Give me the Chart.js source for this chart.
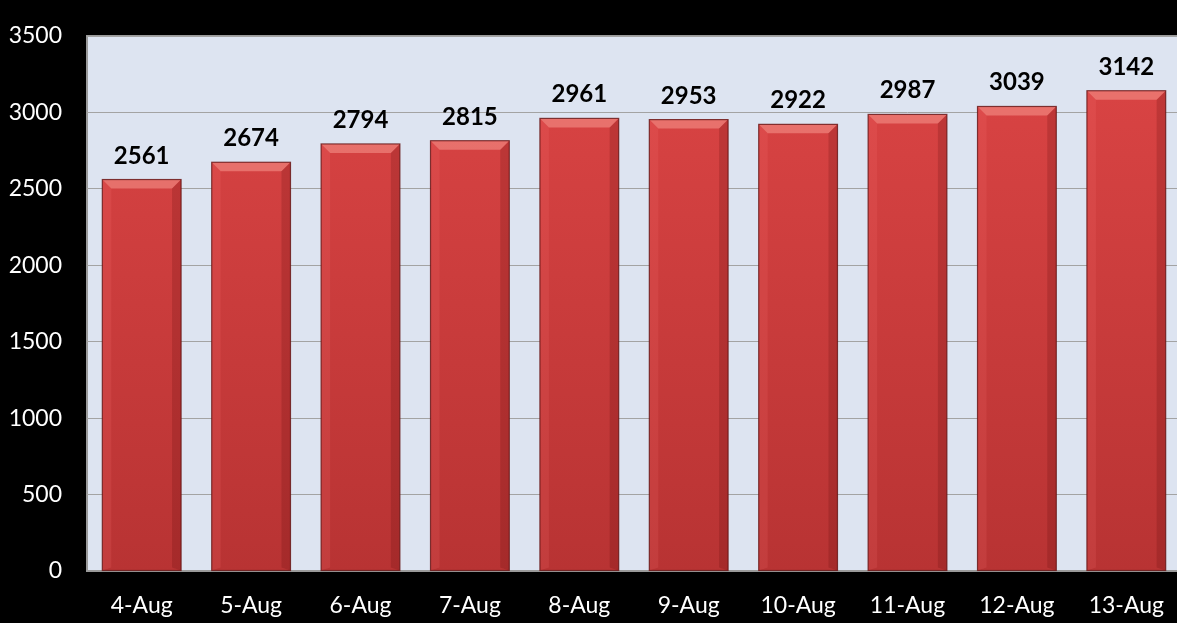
<!DOCTYPE html>
<html><head><meta charset="utf-8">
<script src="https://cdn.jsdelivr.net/npm/chart.js@4/dist/chart.umd.min.js"></script>
<style>
html,body{margin:0;padding:0;background:#000;overflow:hidden;width:1177px;height:623px}
#wrap{position:absolute;left:0;top:0;width:1190px;height:623px}
</style></head><body>
<div id="wrap"><canvas id="c" width="1190" height="623"></canvas></div>
<script>
const categories = ['4-Aug','5-Aug','6-Aug','7-Aug','8-Aug','9-Aug','10-Aug','11-Aug','12-Aug','13-Aug'];
const values = [2561, 2674, 2794, 2815, 2961, 2953, 2922, 2987, 3039, 3142];
const yMin = 0, yMax = 3500, yStep = 500;

const FONT = 'Lato, "Open Sans", sans-serif';

const plotBg = {
  id: 'plotBg',
  beforeDraw(chart) {
    const {ctx, chartArea: a} = chart;
    ctx.save();
    ctx.fillStyle = '#dde4f1';
    ctx.fillRect(a.left, a.top, a.right - a.left, a.bottom - a.top);
    ctx.strokeStyle = '#9a9a9a';
    ctx.lineWidth = 2;
    ctx.beginPath();
    ctx.moveTo(a.left, a.bottom);
    ctx.lineTo(a.left, a.top);
    ctx.lineTo(a.right, a.top);
    ctx.stroke();
    ctx.restore();
  }
};

const bevel = {
  id: 'bevel',
  afterDatasetsDraw(chart) {
    const {ctx} = chart;
    const meta = chart.getDatasetMeta(0);
    ctx.save();
    meta.data.forEach((bar, i) => {
      const l = bar.x - bar.width / 2, r = bar.x + bar.width / 2, t = bar.y, b = bar.base;
      const d = 9;
      ctx.fillStyle = 'rgba(255,170,160,0.45)';
      ctx.beginPath();
      ctx.moveTo(l, t); ctx.lineTo(r, t); ctx.lineTo(r - d, t + d); ctx.lineTo(l + d, t + d); ctx.closePath();
      ctx.fill();
      ctx.fillStyle = 'rgba(255,120,120,0.15)';
      ctx.beginPath();
      ctx.moveTo(l, t); ctx.lineTo(l + d, t + d); ctx.lineTo(l + d, b - 3); ctx.lineTo(l, b); ctx.closePath();
      ctx.fill();
      ctx.fillStyle = 'rgba(90,10,10,0.2)';
      ctx.beginPath();
      ctx.moveTo(r, t); ctx.lineTo(r - d, t + d); ctx.lineTo(r - d, b - 3); ctx.lineTo(r, b); ctx.closePath();
      ctx.fill();
      ctx.strokeStyle = 'rgba(100,20,20,0.8)';
      ctx.lineWidth = 1.2;
      ctx.strokeRect(l, t, r - l, b - t);
      ctx.fillStyle = '#000';
      ctx.font = 'bold 24px ' + FONT;
      ctx.textAlign = 'center';
      ctx.textBaseline = 'alphabetic';
      ctx.fillText(String(values[i]), bar.x, t - 16);
    });
    ctx.restore();
  }
};

const ctx = document.getElementById('c').getContext('2d');
new Chart(ctx, {
  type: 'bar',
  data: {
    labels: categories,
    datasets: [{
      data: values,
      backgroundColor: (c) => {
        const a = c.chart.chartArea;
        if (!a) return '#d23b3b';
        const g = c.chart.ctx.createLinearGradient(0, a.top, 0, a.bottom);
        g.addColorStop(0, '#dc4545');
        g.addColorStop(1, '#b83333');
        return g;
      },
      borderWidth: 0,
      barPercentage: 0.72,
      categoryPercentage: 1.0
    }]
  },
  options: {
    responsive: false,
    animation: false,
    devicePixelRatio: 1,
    layout: {padding: {top: 36, right: 9, left: 0, bottom: 0}},
    plugins: {legend: {display: false}, tooltip: {enabled: false}},
    scales: {
      x: {
        grid: {display: false, drawTicks: false},
        border: {display: true, color: '#9a9a9a', width: 2},
        ticks: {color: '#fff', font: {family: FONT, size: 23}, padding: 21, maxRotation: 0},
        afterFit(s) { s.height = 52; s.paddingLeft = 0; s.paddingRight = 0; }
      },
      y: {
        min: yMin, max: yMax,
        grid: {color: '#a3a3a3', lineWidth: 1, drawTicks: false},
        border: {display: false},
        ticks: {stepSize: yStep, color: '#fff', font: {family: FONT, size: 23}, padding: 25,
                callback: (v) => String(v)},
        afterFit(s) { s.width = 87; s.paddingTop = 0; s.paddingBottom = 0; }
      }
    }
  },
  plugins: [plotBg, bevel]
});
</script>
</body></html>
